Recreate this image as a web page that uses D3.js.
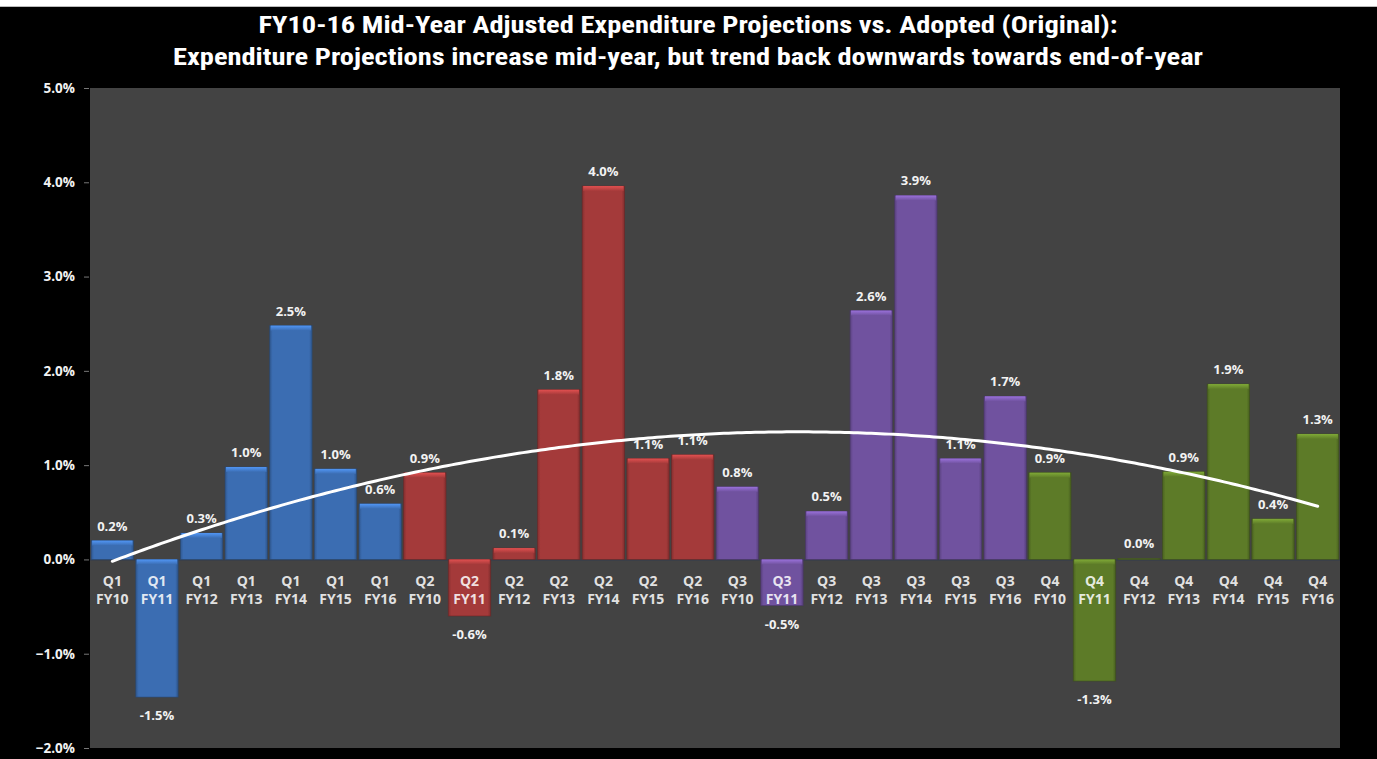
<!DOCTYPE html>
<html><head><meta charset="utf-8">
<script src="https://cdn.jsdelivr.net/npm/d3@7"></script>
<style>
html,body{margin:0;padding:0;background:#000;}
svg{display:block;}
</style></head>
<body>
<script>
const quarters = ["Q1","Q2","Q3","Q4"];
const fiscalYears = ["FY10","FY11","FY12","FY13","FY14","FY15","FY16"];
const q1Values = [0.20, -1.46, 0.28, 0.98, 2.48, 0.96, 0.59];
const q2Values = [0.92, -0.60, 0.12, 1.80, 3.96, 1.07, 1.11];
const q3Values = [0.77, -0.49, 0.51, 2.64, 3.86, 1.07, 1.73];
const q4Values = [0.92, -1.29, 0.01, 0.93, 1.86, 0.43, 1.33];
const quarterColors = ["#3b6db2", "#a43a3a", "#70529f", "#5d7b28"];
const yTicks = [-2, -1, 0, 1, 2, 3, 4, 5];
const titleLines = [
  "FY10-16 Mid-Year Adjusted Expenditure Projections vs. Adopted (Original):",
  "Expenditure Projections increase mid-year, but trend back downwards towards end-of-year"
];

const seriesValues = [q1Values, q2Values, q3Values, q4Values];
const data = [];
quarters.forEach((q, qi) => fiscalYears.forEach((fy, fi) => {
  data.push({key: q + " " + fy, q, fy, qi, value: seriesValues[qi][fi]});
}));

const W = 1377, H = 759;
const plot = {left: 90, right: 1340, top: 88, bottom: 748};

const svg = d3.select("body").append("svg").attr("width", W).attr("height", H);
svg.append("rect").attr("width", W).attr("height", H).attr("fill", "#000");
svg.append("rect").attr("width", W).attr("height", 6).attr("fill", "#fff");
svg.append("rect").attr("y", 6).attr("width", W).attr("height", 1).attr("fill", "#bbb");

const defs = svg.append("defs");
quarterColors.forEach((c, i) => {
  const g = defs.append("linearGradient").attr("id", "bev" + i).attr("x1", 0).attr("x2", 0).attr("y1", 0).attr("y2", 1);
  g.append("stop").attr("offset", "0%").attr("stop-color", d3.color(c).brighter(0.9));
  g.append("stop").attr("offset", "100%").attr("stop-color", c);
  const h = defs.append("linearGradient").attr("id", "side" + i);
  h.append("stop").attr("offset", "0%").attr("stop-color", d3.color(c).darker(0.6));
  h.append("stop").attr("offset", "7%").attr("stop-color", c);
  h.append("stop").attr("offset", "93%").attr("stop-color", c);
  h.append("stop").attr("offset", "100%").attr("stop-color", d3.color(c).darker(0.7));
});

svg.append("rect").attr("x", plot.left).attr("y", plot.top)
  .attr("width", plot.right - plot.left).attr("height", plot.bottom - plot.top)
  .attr("fill", "#434343");

const x = d3.scaleBand().domain(data.map(d => d.key)).range([plot.left, plot.right]).paddingInner(0.05).paddingOuter(0.025);
const y = d3.scaleLinear().domain([-2, 5]).range([plot.bottom, plot.top]);

// Title
const title = svg.append("g");
const titleBase = [33, 65];
const titleWidths = [859, 1030];
titleLines.forEach((t, i) => {
  title.append("text").attr("x", 688).attr("y", titleBase[i])
    .attr("text-anchor", "middle").attr("fill", "#fff")
    .attr("font-family", "'Liberation Sans Narrow', 'Arial Narrow', 'Roboto Condensed', Roboto, sans-serif")
    .attr("font-weight", "bold").attr("font-size", 23)
    .attr("textLength", titleWidths[i]).attr("lengthAdjust", "spacingAndGlyphs")
    .text(t);
});

// Y axis
const yAxis = d3.axisLeft(y).tickValues(yTicks).tickSize(5).tickPadding(9)
  .tickFormat(d => d3.format(".1f")(d) + "%");
const ya = svg.append("g").attr("transform", `translate(${plot.left - 1},0)`).call(yAxis);
ya.select(".domain").remove();
ya.selectAll(".tick line").attr("stroke", "#777");
ya.selectAll(".tick text").attr("fill", "#f2f2f2")
  .attr("font-family", "'Open Sans', sans-serif").attr("font-weight", "bold").attr("font-size", 13.5);

// Zero line
svg.append("line").attr("x1", plot.left).attr("x2", plot.right)
  .attr("y1", y(0) + 0.5).attr("y2", y(0) + 0.5).attr("stroke", "#3a3f48").attr("stroke-width", 2);

// Bars
const bars = svg.append("g").selectAll("g").data(data).join("g");
bars.append("rect")
  .attr("x", d => x(d.key)).attr("width", x.bandwidth())
  .attr("y", d => y(Math.max(0, d.value)))
  .attr("height", d => Math.max(1, Math.abs(y(d.value) - y(0))))
  .attr("fill", d => `url(#side${d.qi})`)
  .attr("stroke", d => d3.color(quarterColors[d.qi]).darker(1.2)).attr("stroke-width", 0.8).attr("stroke-opacity", 0.7);
bars.filter(d => Math.abs(y(d.value) - y(0)) > 6).append("rect")
  .attr("x", d => x(d.key) + 1).attr("width", x.bandwidth() - 2)
  .attr("y", d => y(Math.max(0, d.value)))
  .attr("height", 5)
  .attr("fill", d => `url(#bev${d.qi})`);

// Category labels
const cat = svg.append("g").selectAll("text").data(data).join("text")
  .attr("text-anchor", "middle")
  .attr("x", d => x(d.key) + x.bandwidth() / 2)
  .attr("fill", "#fff").attr("fill-opacity", 0.86)
  .attr("font-family", "'Open Sans', sans-serif").attr("font-weight", "bold").attr("font-size", 14);
cat.append("tspan").attr("x", d => x(d.key) + x.bandwidth() / 2).attr("y", y(0) + 27).text(d => d.q);
cat.append("tspan").attr("x", d => x(d.key) + x.bandwidth() / 2).attr("y", y(0) + 45).text(d => d.fy);

// Value labels
svg.append("g").selectAll("text").data(data).join("text")
  .attr("text-anchor", "middle")
  .attr("x", d => x(d.key) + x.bandwidth() / 2)
  .attr("y", d => d.value >= 0 ? y(d.value) - 10 : y(d.value) + 23)
  .attr("fill", "#f2f2f2")
  .attr("font-family", "'Open Sans', sans-serif").attr("font-weight", "bold").attr("font-size", 13)
  .text(d => d.value.toFixed(1) + "%");

// Polynomial (order 2) trendline, least-squares fit over the 28 bars
const n = data.length;
const idx = d3.range(1, n + 1);
const ys = data.map(d => d.value);
const S = p => d3.sum(idx, t => Math.pow(t, p));
const Sy = p => d3.sum(idx, (t, i) => Math.pow(t, p) * ys[i]);
const A = [[n, S(1), S(2)], [S(1), S(2), S(3)], [S(2), S(3), S(4)]];
const B = [Sy(0), Sy(1), Sy(2)];
function solve3(A, B) {
  const M = A.map((r, i) => r.concat([B[i]]));
  for (let c = 0; c < 3; c++) {
    let p = c; for (let r = c + 1; r < 3; r++) if (Math.abs(M[r][c]) > Math.abs(M[p][c])) p = r;
    [M[c], M[p]] = [M[p], M[c]];
    for (let r = 0; r < 3; r++) if (r !== c) {
      const f = M[r][c] / M[c][c];
      for (let k = c; k < 4; k++) M[r][k] -= f * M[c][k];
    }
  }
  return M.map((r, i) => r[3] / r[i]);
}
const coef = solve3(A, B);
const trendPts = d3.range(1, n + 0.001, 0.1).map(t => {
  const i0 = Math.min(n - 1, Math.floor(t) - 1);
  const frac = t - (i0 + 1);
  const px = x(data[i0].key) + x.bandwidth() / 2 + frac * x.step();
  return [px, y(coef[0] + coef[1] * t + coef[2] * t * t)];
});
svg.append("path").attr("d", d3.line()(trendPts))
  .attr("fill", "none").attr("stroke", "#fff").attr("stroke-width", 3).attr("stroke-linecap", "round");
</script>
</body></html>
